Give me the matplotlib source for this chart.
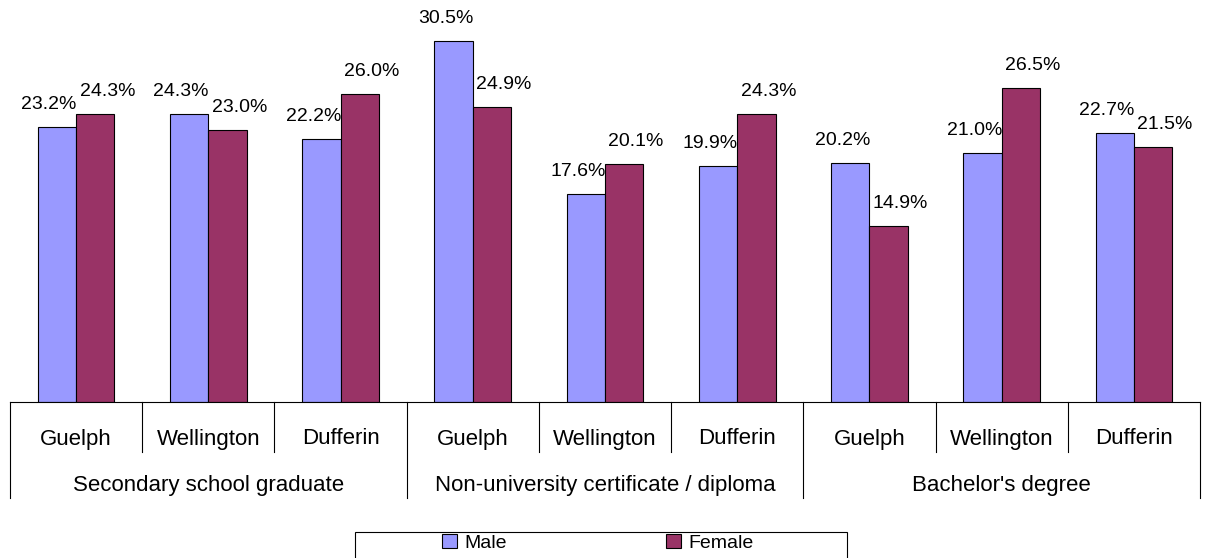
import matplotlib
matplotlib.use("Agg")
import matplotlib.pyplot as plt
from matplotlib.patches import Patch, Rectangle
import numpy as np

plt.rcParams['font.family'] = ['Liberation Sans', 'DejaVu Sans']

categories = ["Secondary school graduate", "Non-university certificate / diploma", "Bachelor's degree"]
regions = ["Guelph", "Wellington", "Dufferin"]
male = [23.2, 24.3, 22.2, 30.5, 17.6, 19.9, 20.2, 21.0, 22.7]
female = [24.3, 23.0, 26.0, 24.9, 20.1, 24.3, 14.9, 26.5, 21.5]

MALE_COLOR = "#9999FF"
FEMALE_COLOR = "#993366"

W, H = 1208, 558
fig = plt.figure(figsize=(W / 100, H / 100), dpi=100)
ax = fig.add_axes([10 / W, 156 / H, 1190 / W, 402 / H])

n = len(male)
x = np.arange(n)
bw = 0.29
ax.bar(x - bw / 2, male, bw, color=MALE_COLOR, edgecolor="black", linewidth=0.8)
ax.bar(x + bw / 2, female, bw, color=FEMALE_COLOR, edgecolor="black", linewidth=0.8)

ax.set_xlim(-0.5, n - 0.5)
ax.set_ylim(0, 33.95)
for s in ["top", "right", "left"]:
    ax.spines[s].set_visible(False)
ax.spines["bottom"].set_linewidth(0.8)
ax.set_xticks([])
ax.set_yticks([])

# value labels above each bar
for xi, v in zip(x, male):
    ax.annotate(f"{v:.1f}%", (xi - bw / 2, v), xytext=(-8, 18), textcoords="offset pixels",
                ha="center", va="baseline", fontsize=14)
for xi, v in zip(x, female):
    ax.annotate(f"{v:.1f}%", (xi + bw / 2, v), xytext=(12, 18), textcoords="offset pixels",
                ha="center", va="baseline", fontsize=14)

# two-level category axis
tr = ax.get_xaxis_transform()
px = 1 / 402.0
for b in range(n + 1):
    xb = b - 0.5
    depth = 96 if b % 3 == 0 else 50
    ax.plot([xb, xb], [0, -depth * px], color="black", lw=0.8, transform=tr, clip_on=False)
for i in range(n):
    ax.text(i, -37 * px, regions[i % 3], ha="center", va="center", fontsize=16, transform=tr)
for j, c in enumerate(categories):
    ax.text(3 * j + 1, -84 * px, c, ha="center", va="center", fontsize=16, transform=tr)

# legend with a plain black frame
fig.patches.append(Rectangle((355 / W, -10 / H), 492 / W, (26 + 10) / H,
                             transform=fig.transFigure, facecolor="white",
                             edgecolor="black", linewidth=0.8, zorder=1))
handles = [Patch(facecolor=MALE_COLOR, edgecolor="black", linewidth=0.8, label="Male"),
           Patch(facecolor=FEMALE_COLOR, edgecolor="black", linewidth=0.8, label="Female")]
leg = fig.legend(handles=handles, loc="center", ncol=2,
                 bbox_to_anchor=(598 / W, 1 - 543 / H),
                 fontsize=14, frameon=False,
                 handlelength=0.75, handleheight=0.75, handletextpad=0.4,
                 columnspacing=8.2, borderaxespad=0, borderpad=0)
leg.set_zorder(3)

fig.savefig("out.png", dpi=100)
